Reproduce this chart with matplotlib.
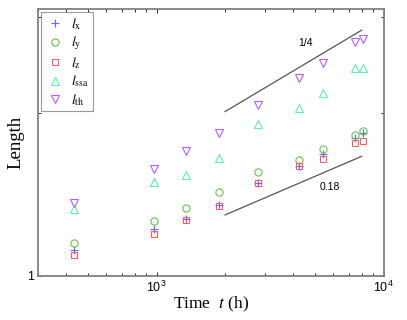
import numpy as np
import matplotlib
matplotlib.use("Agg")
import matplotlib.pyplot as plt
from matplotlib.ticker import FixedLocator, FixedFormatter, LogLocator, NullFormatter

plt.rcParams.update({
    "font.family": "Liberation Sans",
    "mathtext.fontset": "stix",
    "xtick.direction": "in",
    "ytick.direction": "in",
    "xtick.top": True,
    "ytick.right": True,
})

# ---------------------------------------------------------------------------
# Data
# ---------------------------------------------------------------------------
time_h = [430, 970, 1350, 1880, 2800, 4230, 5420, 7480, 8110]
l_x = [1.116, 1.218, 1.275, 1.351, 1.484, 1.597, 1.679, 1.795, 1.834]
l_y = [1.151, 1.262, 1.334, 1.428, 1.553, 1.638, 1.717, 1.818, 1.849]
l_z = [1.094, 1.193, 1.266, 1.347, 1.482, 1.597, 1.643, 1.757, 1.774]
l_ssa = [1.327, 1.490, 1.535, 1.652, 1.910, 2.039, 2.179, 2.424, 2.424]
l_th = [1.361, 1.573, 1.702, 1.834, 2.065, 2.323, 2.476, 2.701, 2.735]

# guide lines (power laws)
fit_t = [2000, 8000]
slope_hi, amp_hi = 0.25, 2.01
slope_lo, amp_lo = 0.18, 1.295

# ---------------------------------------------------------------------------
# Plot
# ---------------------------------------------------------------------------
fig = plt.figure(figsize=(4.07, 3.2), dpi=100)
ax = fig.add_axes([0.0934, 0.1384, 0.8494, 0.8335])

ms = 5.2
ax.plot(time_h, l_x, ls="none", marker="+", ms=ms + 1, mew=0.8,
        color="#5a6cff", label=r"$l_{\rm x}$")
ax.plot(time_h, l_y, ls="none", marker="o", ms=ms, mew=0.8, mfc="none",
        color="#66c24d", label=r"$l_{\rm y}$")
ax.plot(time_h, l_z, ls="none", marker="s", ms=ms - 0.4, mew=0.8, mfc="none",
        color="#ff5c5c", label=r"$l_{\rm z}$")
ax.plot(time_h, l_ssa, ls="none", marker="^", ms=ms + 0.6, mew=0.8, mfc="none",
        color="#5cf0b0", label=r"$l_{\rm ssa}$")
ax.plot(time_h, l_th, ls="none", marker="v", ms=ms + 0.6, mew=0.8, mfc="none",
        color="#b25cff", label=r"$l_{\rm th}$")

ft = np.array(fit_t, dtype=float)
ax.plot(ft, amp_hi * (ft / fit_t[0]) ** slope_hi, color="#555555", lw=0.9)
ax.plot(ft, amp_lo * (ft / fit_t[0]) ** slope_lo, color="#555555", lw=0.9)
ax.text(4500, 2.696, "1/4", fontsize=7.5, ha="center", va="center")
ax.text(5780, 1.457, "0.18", fontsize=7.5, ha="center", va="center")

ax.set_xscale("log")
ax.set_yscale("log")
ax.set_xlim(300, 10000)
ax.set_ylim(1, 3.11)

ax.xaxis.set_major_locator(FixedLocator([1e3, 1e4]))
ax.xaxis.set_minor_locator(LogLocator(base=10, subs=np.arange(2, 10)))
ax.xaxis.set_minor_formatter(NullFormatter())
ax.yaxis.set_major_locator(FixedLocator([1]))
ax.yaxis.set_major_formatter(FixedFormatter(["1"]))
ax.yaxis.set_minor_locator(FixedLocator([2, 3]))
ax.yaxis.set_minor_formatter(NullFormatter())

ax.tick_params(which="major", length=3, width=0.6, labelsize=9, pad=3)
ax.tick_params(which="minor", length=2, width=0.6)
for sp in ax.spines.values():
    sp.set_color("#808080")
    sp.set_linewidth(1.3)

ax.set_xlabel(r"Time  $t$ (h)", fontsize=12.5, family="Liberation Serif", labelpad=0)
ax.set_ylabel("Length", fontsize=13.5, family="Liberation Serif", labelpad=2)

leg = ax.legend(loc="upper left", frameon=True, fancybox=False, fontsize=10,
                borderpad=0.25, labelspacing=0.2, handletextpad=0.5,
                handlelength=1.4, borderaxespad=0.25)
leg.get_frame().set_edgecolor("#808080")
leg.get_frame().set_linewidth(0.8)

fig.savefig("out.png", dpi=100)
